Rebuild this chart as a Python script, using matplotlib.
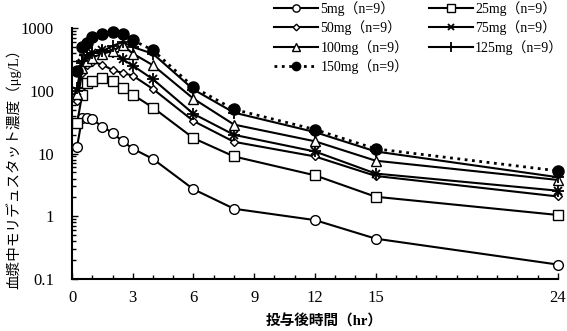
import numpy as np
import matplotlib.pyplot as plt
from matplotlib.ticker import FixedLocator, MultipleLocator, LogLocator, NullFormatter

plt.rcParams['font.family'] = ['Liberation Serif', 'Noto Sans CJK JP']

# datos
t = [0.25, 0.5, 0.75, 1, 1.5, 2, 2.5, 3, 4, 6, 8, 12, 15, 24]

c5 = [12.9, 37, 37.5, 35, 27, 21.4, 15.7, 12, 8.2, 2.7, 1.32, 0.87, 0.44, 0.17]
c25 = [30.5, 87, 133, 146, 163, 144, 111, 87, 54, 17.6, 9.0, 4.5, 2.05, 1.05]
c50 = [70, 190, 255, 290, 262, 215, 193, 175, 107, 33, 15.4, 9.0, 4.4, 2.07]
c75 = [100, 280, 350, 400, 456, 418, 319, 253, 153, 43, 19.9, 10.8, 4.8, 2.56]
c100 = [90, 230, 300, 340, 393, 430, 540, 394, 256, 75, 29, 15.7, 7.7, 3.8]
c125 = [110, 300, 370, 400, 430, 520, 600, 500, 390, 105, 45, 22, 10.8, 4.2]
c150 = [210, 500, 580, 710, 794, 874, 794, 643, 444, 115, 50.6, 24.2, 11.9, 5.3]

etiquetas = ['5mg（n=9）', '25mg（n=9）', '50mg（n=9）', '75mg（n=9）',
             '100mg（n=9）', '125mg（n=9）', '150mg（n=9）']

fig = plt.figure(figsize=(5.67, 3.31), dpi=100)
ax = fig.add_axes([0.127, 0.157, 0.857, 0.758])

lw = 1.5
h5, = ax.plot(t, c5, '-o', color='black', mfc='white', ms=7, lw=lw, mew=1)
h25, = ax.plot(t, c25, '-s', color='black', mfc='white', ms=7, lw=lw, mew=1)
h50, = ax.plot(t, c50, '-D', color='black', mfc='white', ms=4.5, lw=lw, mew=1)
h75, = ax.plot(t, c75, '-x', color='black', ms=6, lw=lw, mew=1.3)
ax.plot(t, c75, ' +', color='black', ms=8, mew=1.3)
h100, = ax.plot(t, c100, '-^', color='black', mfc='white', ms=7, lw=lw, mew=1)
h125, = ax.plot(t, c125, '-+', color='black', ms=9, lw=lw, mew=1.3)
h150, = ax.plot(t, c150, ':o', color='black', ms=8, lw=2)

ax.set_yscale('log')
ax.set_ylim(0.1, 1000)
ax.set_xlim(0, 24)
ax.xaxis.set_major_locator(FixedLocator([0, 3, 6, 9, 12, 15, 24]))
ax.xaxis.set_minor_locator(MultipleLocator(1))
ax.yaxis.set_major_locator(LogLocator(base=10, numticks=10))
ax.yaxis.set_minor_locator(LogLocator(base=10, subs=np.arange(2, 10), numticks=10))
ax.yaxis.set_minor_formatter(NullFormatter())
ax.yaxis.set_major_formatter(plt.FuncFormatter(lambda v, p: ('%g' % v)))

ax.tick_params(which='both', direction='in', labelsize=12, width=1, color='black')
ax.tick_params(which='major', length=4)
ax.tick_params(which='minor', length=3)
ax.tick_params(axis='x', pad=8)
ax.tick_params(axis='y', pad=13)
ax.spines['top'].set_visible(False)
ax.spines['right'].set_visible(False)
ax.spines['left'].set_linewidth(1.5)
ax.spines['bottom'].set_linewidth(1.5)
for ln in ax.lines:
    ln.set_clip_on(False)

ax.set_xlabel('投与後時間（hr）', fontsize=10.5, fontweight='bold')
ax.xaxis.set_label_coords(0.52, -0.14)
ax.set_ylabel('血漿中モリデュスタット濃度（μg/L）', fontsize=10.5)
ax.yaxis.set_label_coords(-0.105, 0.455)

hs = [h5, h50, h100, h150, h25, h75, h125]
ls = [etiquetas[0], etiquetas[2], etiquetas[4], etiquetas[6],
      etiquetas[1], etiquetas[3], etiquetas[5]]
fig.legend(hs, ls, loc='upper left', bbox_to_anchor=(0.462, 1.035), ncol=2,
           frameon=False, fontsize=10, handlelength=3.15, handletextpad=0.15,
           columnspacing=1.5, labelspacing=0.33, markerscale=0.75)

fig.savefig('out.png', dpi=100)
